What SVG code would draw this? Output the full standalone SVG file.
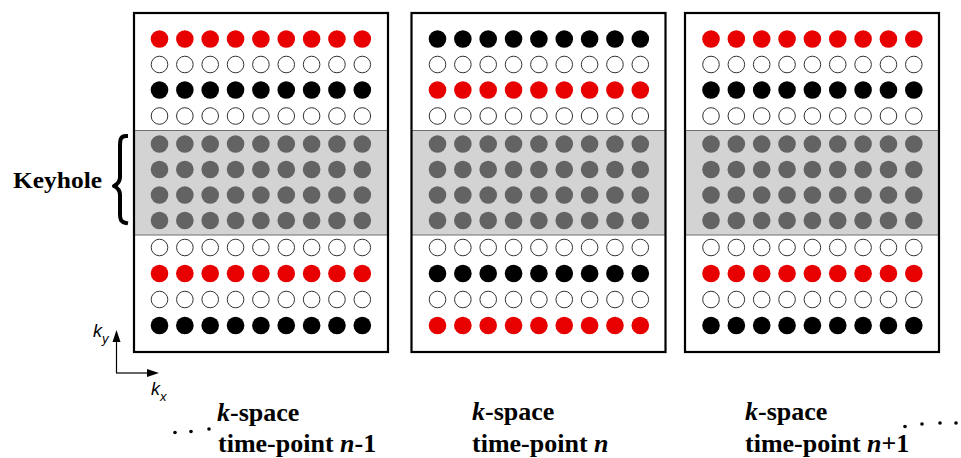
<svg xmlns="http://www.w3.org/2000/svg" xmlns:xlink="http://www.w3.org/1999/xlink" width="961" height="458" viewBox="0 0 961 458">
<style>
.panel{fill:#fff;stroke:none}
.frame{fill:none;stroke:#000;stroke-width:2.2}
.band{fill:#d3d3d3;stroke:#6e6e6e;stroke-width:1}
.lbl{font-family:"Liberation Serif","Times New Roman",serif;font-weight:bold;font-size:26px;fill:#000}
.ax{font-family:"Liberation Sans",Arial,sans-serif;font-style:italic;fill:#000}
.dot{fill:#000}
</style>
<defs>
<g id="row">
<circle cx="0" cy="0" r="8.8"/><circle cx="25.35" cy="0" r="8.8"/><circle cx="50.7" cy="0" r="8.8"/><circle cx="76.05" cy="0" r="8.8"/><circle cx="101.4" cy="0" r="8.8"/><circle cx="126.75" cy="0" r="8.8"/><circle cx="152.1" cy="0" r="8.8"/><circle cx="177.45" cy="0" r="8.8"/><circle cx="202.8" cy="0" r="8.8"/>
</g>
<g id="orow">
<circle cx="0" cy="0" r="8.3"/><circle cx="25.35" cy="0" r="8.3"/><circle cx="50.7" cy="0" r="8.3"/><circle cx="76.05" cy="0" r="8.3"/><circle cx="101.4" cy="0" r="8.3"/><circle cx="126.75" cy="0" r="8.3"/><circle cx="152.1" cy="0" r="8.3"/><circle cx="177.45" cy="0" r="8.3"/><circle cx="202.8" cy="0" r="8.3"/>
</g>
</defs>
<rect width="961" height="458" fill="#fff"/>

<g id="panel1">
<rect class="panel" x="134" y="13" width="254" height="339"/>
<rect class="band" x="134" y="130.5" width="254" height="104.5"/>
<use xlink:href="#row" x="159.5" y="39" fill="#e80000"/>
<use xlink:href="#orow" x="159.5" y="64.5" fill="#fff" stroke="#333" stroke-width="1"/>
<use xlink:href="#row" x="159.5" y="90" fill="#000"/>
<use xlink:href="#orow" x="159.5" y="116" fill="#fff" stroke="#333" stroke-width="1"/>
<use xlink:href="#row" x="159.5" y="144" fill="#636363"/>
<use xlink:href="#row" x="159.5" y="169.5" fill="#636363"/>
<use xlink:href="#row" x="159.5" y="195" fill="#636363"/>
<use xlink:href="#row" x="159.5" y="220.5" fill="#636363"/>
<use xlink:href="#orow" x="159.5" y="247.5" fill="#fff" stroke="#333" stroke-width="1"/>
<use xlink:href="#row" x="159.5" y="273.5" fill="#e80000"/>
<use xlink:href="#orow" x="159.5" y="299.5" fill="#fff" stroke="#333" stroke-width="1"/>
<use xlink:href="#row" x="159.5" y="325.5" fill="#000"/>
<rect class="frame" x="134" y="13" width="254" height="339"/>
</g>

<g id="panel2">
<rect class="panel" x="411.5" y="13" width="254" height="339"/>
<rect class="band" x="411.5" y="130.5" width="254" height="104.5"/>
<use xlink:href="#row" x="437.5" y="39" fill="#000"/>
<use xlink:href="#orow" x="437.5" y="64.5" fill="#fff" stroke="#333" stroke-width="1"/>
<use xlink:href="#row" x="437.5" y="90" fill="#e80000"/>
<use xlink:href="#orow" x="437.5" y="116" fill="#fff" stroke="#333" stroke-width="1"/>
<use xlink:href="#row" x="437.5" y="144" fill="#636363"/>
<use xlink:href="#row" x="437.5" y="169.5" fill="#636363"/>
<use xlink:href="#row" x="437.5" y="195" fill="#636363"/>
<use xlink:href="#row" x="437.5" y="220.5" fill="#636363"/>
<use xlink:href="#orow" x="437.5" y="247.5" fill="#fff" stroke="#333" stroke-width="1"/>
<use xlink:href="#row" x="437.5" y="273.5" fill="#000"/>
<use xlink:href="#orow" x="437.5" y="299.5" fill="#fff" stroke="#333" stroke-width="1"/>
<use xlink:href="#row" x="437.5" y="325.5" fill="#e80000"/>
<rect class="frame" x="411.5" y="13" width="254" height="339"/>
</g>

<g id="panel3">
<rect class="panel" x="685" y="13" width="254" height="339"/>
<rect class="band" x="685" y="130.5" width="254" height="104.5"/>
<use xlink:href="#row" x="711" y="39" fill="#e80000"/>
<use xlink:href="#orow" x="711" y="64.5" fill="#fff" stroke="#333" stroke-width="1"/>
<use xlink:href="#row" x="711" y="90" fill="#000"/>
<use xlink:href="#orow" x="711" y="116" fill="#fff" stroke="#333" stroke-width="1"/>
<use xlink:href="#row" x="711" y="144" fill="#636363"/>
<use xlink:href="#row" x="711" y="169.5" fill="#636363"/>
<use xlink:href="#row" x="711" y="195" fill="#636363"/>
<use xlink:href="#row" x="711" y="220.5" fill="#636363"/>
<use xlink:href="#orow" x="711" y="247.5" fill="#fff" stroke="#333" stroke-width="1"/>
<use xlink:href="#row" x="711" y="273.5" fill="#e80000"/>
<use xlink:href="#orow" x="711" y="299.5" fill="#fff" stroke="#333" stroke-width="1"/>
<use xlink:href="#row" x="711" y="325.5" fill="#000"/>
<rect class="frame" x="685" y="13" width="254" height="339"/>
</g>

<g id="keyhole">
<text x="13" y="188" font-family="Liberation Serif, Times New Roman, serif" font-weight="bold" font-size="24" textLength="89" lengthAdjust="spacingAndGlyphs">Keyhole</text>
<path d="M126,136 C120,136 120,140 120,148 L120,177 C120,182 118,184 114,186 C118,188 120,190 120,195 L120,214 C120,220 121,222 126,223" fill="none" stroke="#000" stroke-width="4" stroke-linecap="square" stroke-linejoin="round"/>
</g>

<g id="connectors">
<line x1="116.5" y1="373" x2="116.5" y2="340" stroke="#000" stroke-width="1.2"/>
<polygon points="116.5,330 112.5,342 120.5,342" fill="#000"/>
<line x1="116" y1="373" x2="148" y2="373" stroke="#000" stroke-width="1.2"/>
<polygon points="159,373 147,369 147,377" fill="#000"/>
</g>

<g id="axis-labels">
<text class="ax" x="93" y="337" font-size="18">k<tspan x="102" y="343" font-size="13">y</tspan></text>
<text class="ax" x="151" y="395" font-size="18">k<tspan x="160" y="401" font-size="13">x</tspan></text>
</g>

<g id="label1">
<text class="lbl" x="217" y="421"><tspan font-style="italic">k</tspan>-space</text>
<text class="lbl" x="218" y="451.5">time-point <tspan font-style="italic">n</tspan>-1</text>
<circle class="dot" cx="175" cy="432.5" r="1.8"/><circle class="dot" cx="191" cy="431.5" r="1.8"/><circle class="dot" cx="209" cy="429" r="1.8"/>
</g>

<g id="label2">
<text class="lbl" x="472" y="420"><tspan font-style="italic">k</tspan>-space</text>
<text class="lbl" x="472" y="451.5">time-point <tspan font-style="italic">n</tspan></text>
</g>

<g id="label3">
<text class="lbl" x="745" y="420"><tspan font-style="italic">k</tspan>-space</text>
<text class="lbl" x="745" y="451.5">time-point <tspan font-style="italic">n</tspan>+1</text>
<circle class="dot" cx="905" cy="426.5" r="1.8"/><circle class="dot" cx="922" cy="424" r="1.8"/><circle class="dot" cx="940" cy="423" r="1.8"/><circle class="dot" cx="956" cy="423" r="1.8"/>
</g>
</svg>
